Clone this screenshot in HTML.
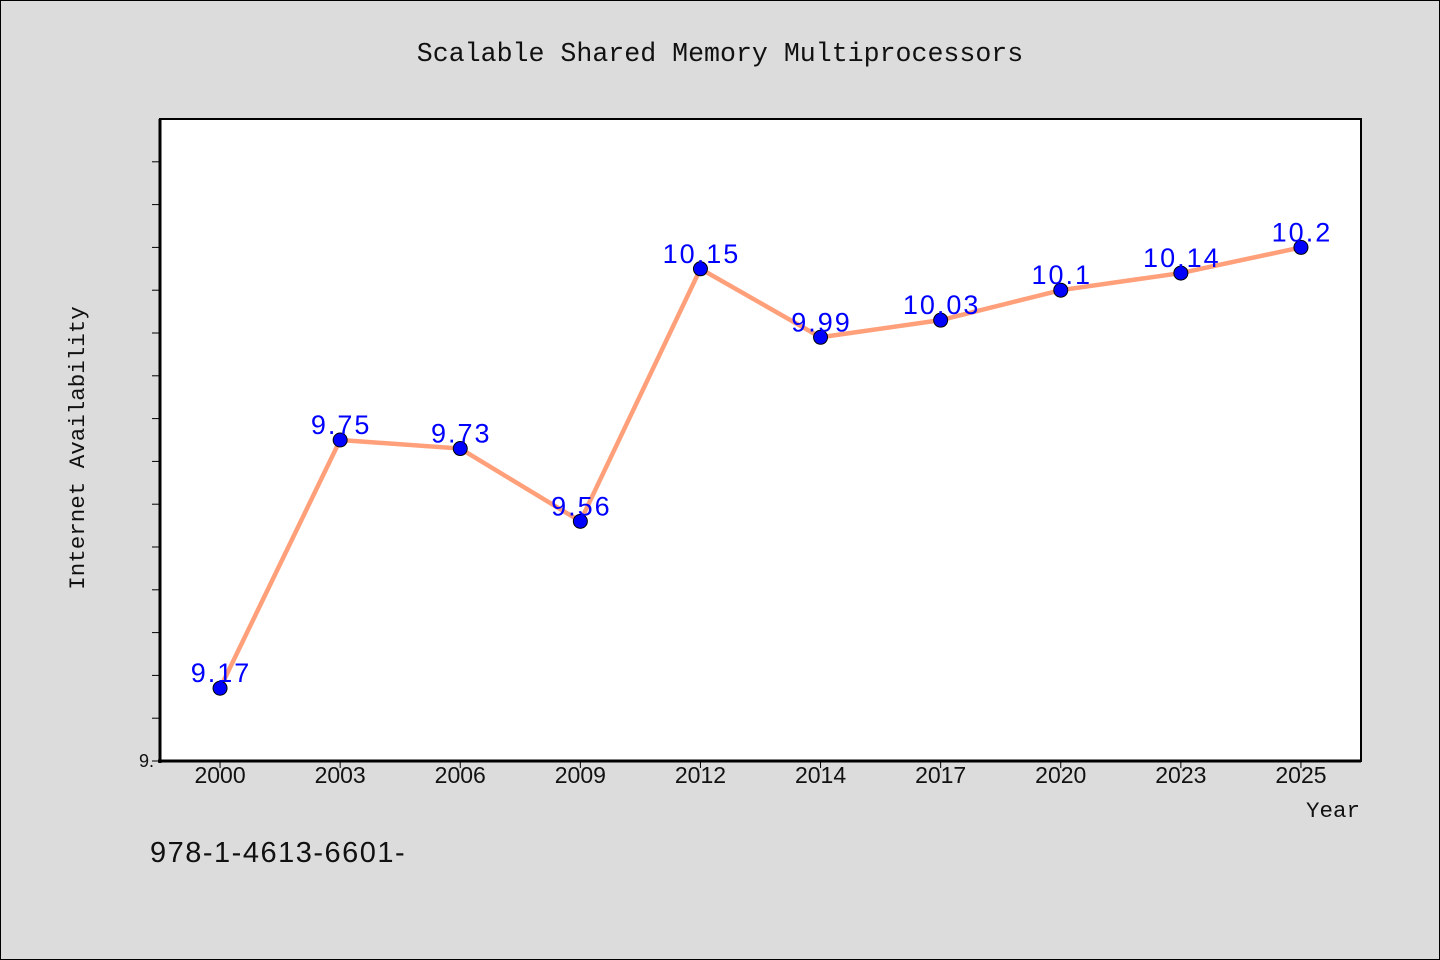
<!DOCTYPE html>
<html><head><meta charset="utf-8"><style>
body{margin:0;background:#dcdcdc;}
svg{display:block;font-family:"Liberation Sans","WenQuanYi Zen Hei",sans-serif;}
.mono{font-family:"Liberation Mono",monospace;}
</style></head><body>
<svg width="1440" height="960">
<rect x="0.5" y="0.5" width="1439" height="959" fill="#dcdcdc" stroke="#000" stroke-width="1"/>
<text x="720" y="61" class="mono" text-anchor="middle" font-size="26.6" fill="#111">Scalable Shared Memory Multiprocessors</text>
<rect x="160" y="119" width="1201" height="642" fill="#fff" stroke="#000" stroke-width="2"/>
<g id="axes"></g>
<g id="series"></g>
<text x="84" y="448" class="mono" transform="rotate(-90 84 448)" text-anchor="middle" font-size="22.5" fill="#111">Internet Availability</text>
<text x="1360" y="817" class="mono" text-anchor="end" font-size="22.5" fill="#111">Year</text>
<text x="150" y="862" font-size="29" letter-spacing="1.5" fill="#111">978-1-4613-6601-</text>
</svg>
<script>
const categories=["2000","2003","2006","2009","2012","2014","2017","2020","2023","2025"];
const values=[9.17,9.75,9.73,9.56,10.15,9.99,10.03,10.1,10.14,10.2];
const labels=["9.17","9.75","9.73","9.56","10.15","9.99","10.03","10.1","10.14","10.2"];
const yMin=9,yMax=10.5;
const L=160,R=1361,T=119,B=761;
const NS="http://www.w3.org/2000/svg";
function y(v){return B-(v-yMin)/(yMax-yMin)*(B-T);}
function x(i){const bw=(R-L)/categories.length;return L+bw*(i+0.5);}
function mk(t,a,p){const e=document.createElementNS(NS,t);for(const k in a)e.setAttribute(k,a[k]);p.appendChild(e);return e;}
const ax=document.getElementById('axes'),se=document.getElementById('series');
for(let k=0;k<15;k++){const v=yMin+k*0.1;const t=mk('line',{x1:L-8,x2:L,y1:y(v),y2:y(v),stroke:'#000','stroke-width':1},ax);

}
const yl=mk('text',{x:L-6,y:B+6,'text-anchor':'end','font-size':18,fill:'#111'},ax);yl.textContent='9.';


mk('line',{x1:L,x2:L,y1:T,y2:B+2,stroke:'#000','stroke-width':3},ax);
mk('line',{x1:L-2,x2:R,y1:B,y2:B,stroke:'#000','stroke-width':3},ax);
categories.forEach((c,i)=>{const t=mk('line',{x1:x(i),x2:x(i),y1:B,y2:B+7,stroke:'#000','stroke-width':1},ax);


const l=mk('text',{x:x(i),y:B+22,'text-anchor':'middle','font-size':23,fill:'#111'},ax);l.textContent=c;

});
const pl=mk('polyline',{points:values.map((v,i)=>x(i)+','+y(v)).join(' '),fill:'none',stroke:'#ffa07a','stroke-width':4.5},se);


values.forEach((v,i)=>{const c=mk('circle',{cx:x(i),cy:y(v),r:7,fill:'#0000ff',stroke:'#000','stroke-width':1},se);


const t=mk('text',{x:x(i)+1,y:y(v)-6,'text-anchor':'middle','font-size':27,'letter-spacing':2,fill:'#0000ff'},se);t.textContent=labels[i];

});
</script>
</body></html>
